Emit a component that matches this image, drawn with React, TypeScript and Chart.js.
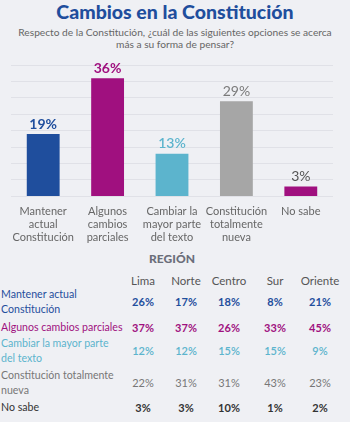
import React, { useEffect, useRef } from "react";
import { Chart, registerables } from "chart.js";

Chart.register(...registerables);

const categories: string[][] = [
  ["Mantener", "actual", "Constitución"],
  ["Algunos", "cambios", "parciales"],
  ["Cambiar la", "mayor parte", "del texto"],
  ["Constitución", "totalmente", "nueva"],
  ["No sabe"],
];
const values = [19, 36, 13, 29, 3];
const barColors = ["#1f4e9d", "#a0107f", "#5cb4cd", "#a6a6a6", "#a0107f"];
const labelColors = ["#1f4e9d", "#a0107f", "#5cb4cd", "#7a7a7a", "#555555"];
const labelWeights = ["bold", "bold", "600", "normal", "normal"];

const regions = ["Lima", "Norte", "Centro", "Sur", "Oriente"];
const rowLabels: string[][] = [
  ["Mantener actual", "Constitución"],
  ["Algunos cambios parciales"],
  ["Cambiar la mayor parte", "del texto"],
  ["Constitución totalmente", "nueva"],
  ["No sabe"],
];
const rowValues: number[][] = [
  [26, 17, 18, 8, 21],
  [37, 37, 26, 33, 45],
  [12, 12, 15, 15, 9],
  [22, 31, 31, 43, 23],
  [3, 3, 10, 1, 2],
];
const rowColors = ["#1f4e9d", "#a0107f", "#5cb4cd", "#777777", "#333333"];
const rowValueWeights = ["bold", "bold", "600", "normal", "bold"];

const FONT = "Lato, 'Open Sans', sans-serif";

const valueLabelPlugin = {
  id: "valueLabels",
  afterDatasetsDraw(chart: any) {
    const ctx = chart.ctx;
    const meta = chart.getDatasetMeta(0);
    ctx.save();
    ctx.textAlign = "center";
    ctx.textBaseline = "middle";
    meta.data.forEach((bar: any, i: number) => {
      ctx.fillStyle = labelColors[i];
      ctx.font = `${labelWeights[i]} 14px ${FONT}`;
      ctx.fillText(values[i] + "%", bar.x, bar.y - 10);
    });
    ctx.restore();
  },
};

export default function App() {
  const ref = useRef<HTMLCanvasElement | null>(null);
  useEffect(() => {
    if (!ref.current) return;
    const chart = new Chart(ref.current, {
      type: "bar",
      data: {
        labels: categories,
        datasets: [
          {
            data: values,
            backgroundColor: barColors,
            borderWidth: 0,
            barPercentage: 0.51,
            categoryPercentage: 1,
          },
        ],
      },
      options: {
        animation: false,
        responsive: false,
        maintainAspectRatio: false,
        layout: { padding: { left: 11, right: 17, top: 15, bottom: 4 } },
        plugins: {
          legend: { display: false },
          tooltip: { enabled: false },
        },
        scales: {
          x: {
            grid: { display: false },
            border: { display: false },
            ticks: {
              color: "#666666",
              font: { family: FONT, size: 11 },
              padding: 0,
              maxRotation: 0,
              autoSkip: false,
            },
          },
          y: {
            min: 0,
            max: 40,
            ticks: { display: false, stepSize: 5 },
            grid: { color: "#e0e1e7", lineWidth: 1, drawTicks: false },
            border: { display: false },
          },
        },
      },
      plugins: [valueLabelPlugin],
    });
    return () => chart.destroy();
  }, []);

  const colX = [143, 186, 229, 275, 320];
  const rowTops = [287, 320, 336, 368, 400];

  return (
    <div
      style={{
        position: "absolute",
        left: 0,
        top: 0,
        width: 350,
        height: 422,
        background: "#eff0f4",
        fontFamily: FONT,
        overflow: "hidden",
      }}
    >
      <div
        style={{
          position: "absolute",
          top: 1,
          left: 0,
          width: 350,
          textAlign: "center",
          fontWeight: 900,
          fontSize: 19.5,
          color: "#1f4e9d",
          lineHeight: "22px",
        }}
      >
        Cambios en la Constitución
      </div>
      <div
        style={{
          position: "absolute",
          top: 26,
          left: 0,
          width: 350,
          textAlign: "center",
          fontSize: 10.2,
          color: "#666",
          lineHeight: "12px",
        }}
      >
        Respecto de la Constitución, ¿cuál de las siguientes opciones se acerca
        <br />
        más a su forma de pensar?
      </div>
      <canvas
        ref={ref}
        width={350}
        height={198}
        style={{ position: "absolute", left: 0, top: 50, width: 350, height: 198 }}
      />
      <div
        style={{
          position: "absolute",
          top: 251,
          left: 122,
          width: 100,
          textAlign: "center",
          fontWeight: 900,
          fontSize: 12,
          color: "#6b6e7a",
          lineHeight: "16px",
        }}
      >
        REGIÓN
      </div>
      {regions.map((r, i) => (
        <div
          key={r}
          style={{
            position: "absolute",
            top: 274,
            left: colX[i] - 30,
            width: 60,
            textAlign: "center",
            fontSize: 11.5,
            color: "#555",
            lineHeight: "14px",
          }}
        >
          {r}
        </div>
      ))}
      {rowLabels.map((lines, ri) => (
        <React.Fragment key={ri}>
          <div
            style={{
              position: "absolute",
              top: rowTops[ri],
              left: 1,
              width: 140,
              fontSize: 10.6,
              color: rowColors[ri],
              lineHeight: "15px",
            }}
          >
            {lines.map((l, k) => (
              <div key={k}>{l}</div>
            ))}
          </div>
          {rowValues[ri].map((v, ci) => (
            <div
              key={ci}
              style={{
                position: "absolute",
                top: rowTops[ri] + (lines.length === 2 ? 7 : 0),
                left: colX[ci] - 25,
                width: 50,
                textAlign: "center",
                fontSize: 11,
                fontWeight: rowValueWeights[ri] as any,
                color: rowColors[ri],
                lineHeight: "15px",
              }}
            >
              {v}%
            </div>
          ))}
        </React.Fragment>
      ))}
    </div>
  );
}
